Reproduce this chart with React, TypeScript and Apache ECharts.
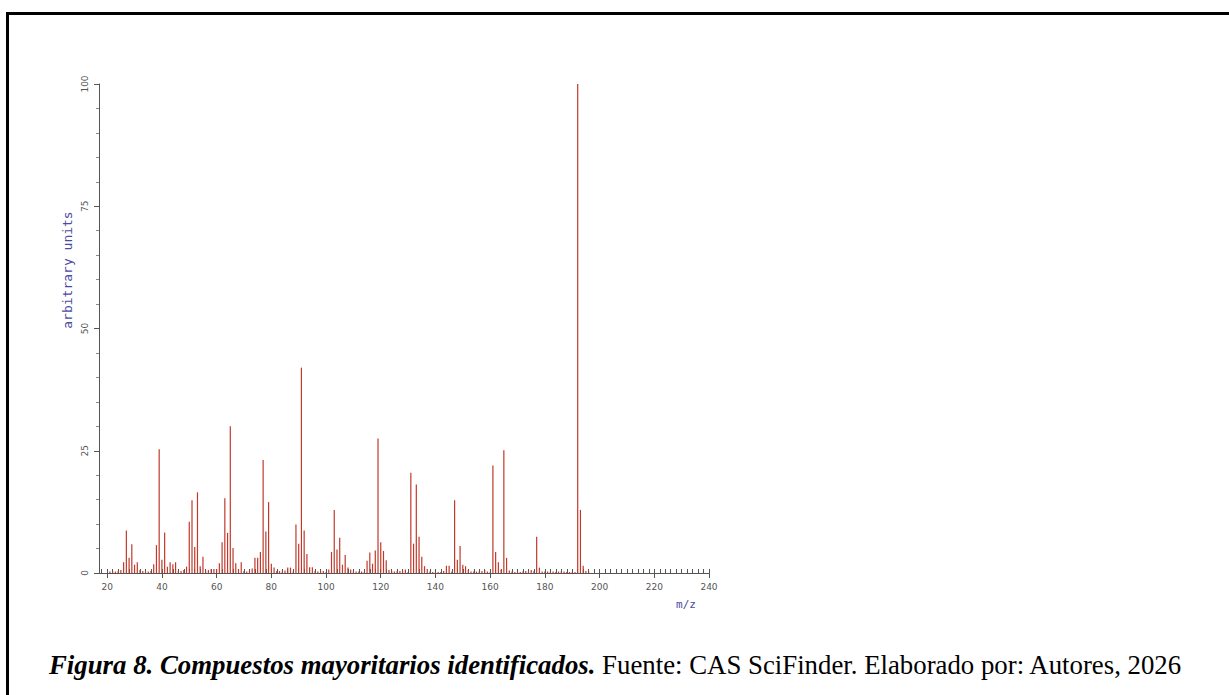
import React, { useEffect, useRef } from "react";
import * as echarts from "echarts";

// m/z values and relative intensities (arbitrary units)
const mz = [
  21, 22, 23, 24, 25, 26, 27, 28, 29, 30, 31, 32, 33, 34, 35, 36, 37, 38, 39, 40,
  41, 42, 43, 44, 45, 46, 47, 48, 49, 50, 51, 52, 53, 54, 55, 56, 57, 58, 59, 60,
  61, 62, 63, 64, 65, 66, 67, 68, 69, 70, 71, 72, 73, 74, 75, 76, 77, 78, 79, 80,
  81, 82, 83, 84, 85, 86, 87, 88, 89, 90, 91, 92, 93, 94, 95, 96, 97, 98, 99, 100,
  101, 102, 103, 104, 105, 106, 107, 108, 109, 110, 111, 112, 113, 114, 115, 116, 117, 118, 119, 120,
  121, 122, 123, 124, 125, 126, 127, 128, 129, 130, 131, 132, 133, 134, 135, 136, 137, 138, 139, 140,
  141, 142, 143, 144, 145, 146, 147, 148, 149, 150, 151, 152, 153, 154, 155, 156, 157, 158, 159, 160,
  161, 162, 163, 164, 165, 166, 167, 168, 169, 170, 171, 172, 173, 174, 175, 176, 177, 178, 179, 180,
  181, 182, 183, 184, 185, 186, 187, 188, 189, 190, 191, 192, 193, 194, 195, 196,
];
const intensity = [
  0.3, 0.3, 0.3, 0.4, 0.6, 2.2, 8.7, 3.1, 5.9, 1.7, 2.2, 0.6, 0.4, 0.3, 0.3, 0.4, 1.8, 5.7, 25.3, 2.7,
  8.3, 1.3, 2.2, 1.8, 2.2, 0.4, 0.4, 0.6, 1.3, 10.5, 14.9, 5.3, 16.5, 1.4, 3.3, 0.5, 0.6, 0.8, 0.8, 0.8,
  2.0, 6.3, 15.3, 8.2, 30.0, 5.1, 2.0, 0.8, 2.2, 0.4, 0.3, 0.4, 0.9, 3.1, 3.1, 4.3, 23.1, 8.5, 14.5, 1.9,
  1.1, 0.4, 0.4, 0.3, 0.5, 1.1, 1.1, 0.3, 9.9, 6.0, 42.0, 8.7, 3.9, 1.2, 1.2, 0.4, 0.3, 0.4, 0.4, 0.2,
  0.7, 4.3, 12.9, 4.8, 7.2, 1.7, 3.7, 1.1, 0.7, 0.4, 0.3, 0.3, 0.3, 0.2, 2.5, 4.2, 1.9, 4.6, 27.5, 6.3,
  4.5, 2.6, 0.6, 0.4, 0.3, 0.4, 0.4, 0.4, 0.7, 0.2, 20.5, 6.0, 18.1, 7.4, 3.3, 1.4, 0.8, 0.3, 0.2, 0.2,
  0.2, 0.2, 0.4, 1.5, 1.5, 0.3, 14.9, 2.7, 5.5, 1.7, 1.4, 0.6, 0.3, 0.3, 0.3, 0.3, 0.4, 0.6, 0.3, 0.2,
  22.0, 4.3, 2.2, 0.7, 25.1, 3.1, 0.5, 0.3, 0.2, 0.2, 0.2, 0.3, 0.4, 0.4, 0.6, 0.4, 7.4, 1.1, 0.3, 0.3,
  0.3, 0.2, 0.3, 0.2, 0.3, 0.3, 0.3, 0.2, 0.2, 0.2, 0.2, 100.0, 12.9, 1.5, 0.4, 0.3,
];

const xTickLabels = [20, 40, 60, 80, 100, 120, 140, 160, 180, 200, 220, 240];
const yTickLabels = [0, 25, 50, 75, 100];
const xMinorTicks: number[] = [];
for (let v = 18; v <= 240; v += 2) xMinorTicks.push(v);

const yAxisTitle = "arbitrary units";
const xAxisTitle = "m/z";
const captionBold = "Figura 8. Compuestos mayoritarios identificados.";
const captionRegular = " Fuente: CAS SciFinder. Elaborado por: Autores, 2026";

export default function App() {
  const ref = useRef<HTMLDivElement>(null);

  useEffect(() => {
    const chart = echarts.init(ref.current!, null, { renderer: "svg" });
    const axisColor = "#555";
    chart.setOption({
      animation: false,
      backgroundColor: "#fff",
      grid: { left: 99, top: 84, width: 610, height: 489 },
      xAxis: [
        {
          type: "value",
          min: 17,
          max: 240,
          axisLine: { show: true, lineStyle: { color: axisColor, width: 1 } },
          axisTick: {
            show: true,
            customValues: xTickLabels,
            inside: false,
            length: 5,
            lineStyle: { color: axisColor },
          },
          axisLabel: {
            customValues: xTickLabels,
            fontSize: 9,
            color: "#555",
            margin: 9,
            fontFamily: "DejaVu Sans",
          },
          splitLine: { show: false },
        },
        {
          type: "value",
          min: 17,
          max: 240,
          position: "bottom",
          axisLine: { show: false },
          axisTick: {
            show: true,
            customValues: xMinorTicks,
            inside: true,
            length: 4,
            lineStyle: { color: axisColor },
          },
          axisLabel: { show: false },
          splitLine: { show: false },
        },
      ],
      yAxis: {
        type: "value",
        min: 0,
        max: 100,
        interval: 25,
        axisLine: { show: true, lineStyle: { color: axisColor, width: 1 } },
        axisTick: { show: true, length: 5, lineStyle: { color: axisColor } },
        minorTick: { show: true, splitNumber: 5, length: 3, lineStyle: { color: "#888" } },
        axisLabel: {
          customValues: yTickLabels,
          rotate: 90,
          fontSize: 9,
          color: "#555",
          margin: 10,
          fontFamily: "DejaVu Sans",
        },
        splitLine: { show: false },
      },
      series: [
        {
          type: "bar",
          xAxisIndex: 0,
          data: mz.map((m, i) => [m, intensity[i]]),
          barWidth: 1.2,
          itemStyle: { color: "#c0392b" },
          silent: true,
        },
      ],
      graphic: [
        {
          type: "line",
          shape: { x1: 7.5, y1: 12, x2: 7.5, y2: 695 },
          style: { stroke: "#000", lineWidth: 3 },
        },
        {
          type: "line",
          shape: { x1: 6, y1: 13.5, x2: 1229, y2: 13.5 },
          style: { stroke: "#000", lineWidth: 3 },
        },
        {
          type: "text",
          x: 67,
          y: 270,
          rotation: Math.PI / 2,
          style: {
            text: yAxisTitle,
            fontFamily: "DejaVu Sans Mono",
            fontSize: 13,
            fill: "#4a4aa0",
            align: "center",
            verticalAlign: "middle",
          },
        },
        {
          type: "text",
          x: 686,
          y: 604,
          style: {
            text: xAxisTitle,
            fontFamily: "DejaVu Sans Mono",
            fontSize: 11,
            fill: "#4a4aa0",
            align: "center",
            verticalAlign: "middle",
          },
        },
        {
          type: "text",
          x: 49,
          y: 665,
          style: {
            text: "{b|" + captionBold + "}{r|" + captionRegular + "}",
            verticalAlign: "middle",
            rich: {
              b: {
                fontFamily: "Liberation Serif",
                fontWeight: "bold",
                fontStyle: "italic",
                fontSize: 26.8,
                fill: "#000",
              },
              r: {
                fontFamily: "Liberation Serif",
                fontSize: 26.8,
                fill: "#000",
              },
            },
          },
        },
      ],
    });
    return () => chart.dispose();
  }, []);

  return (
    <div
      ref={ref}
      style={{ position: "fixed", left: 0, top: 0, width: 1229, height: 695, background: "#fff" }}
    />
  );
}
